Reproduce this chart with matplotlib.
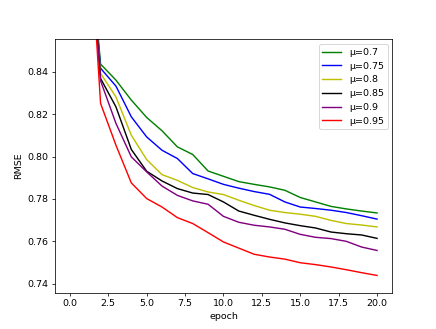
import numpy as np
import matplotlib
matplotlib.use("Agg")
import matplotlib.pyplot as plt

epochs = list(range(0, 21))

# RMSE per epoch, one list per momentum value (epochs 0 and 1 sit above the view)
rmse_07 = [1.02, 0.925, 0.8437, 0.8361, 0.8267, 0.8185, 0.8122, 0.8046, 0.8010, 0.7932, 0.7907,
           0.7882, 0.7869, 0.7857, 0.7841, 0.7807, 0.7786, 0.7765, 0.7753, 0.7743, 0.7734]
rmse_075 = [1.02, 0.925, 0.8417, 0.8333, 0.8188, 0.8093, 0.8030, 0.7991, 0.7920, 0.7895, 0.7869,
            0.7851, 0.7835, 0.7822, 0.7786, 0.7762, 0.7755, 0.7747, 0.7736, 0.7721, 0.7705]
rmse_08 = [1.02, 0.925, 0.8393, 0.8282, 0.8101, 0.7986, 0.7915, 0.7888, 0.7854, 0.7833, 0.7821,
           0.7794, 0.7769, 0.7747, 0.7736, 0.7728, 0.7718, 0.7699, 0.7684, 0.7677, 0.7668]
rmse_085 = [1.02, 0.93, 0.8369, 0.8235, 0.8034, 0.7931, 0.7885, 0.7849, 0.7828, 0.7821, 0.7786,
            0.7743, 0.7723, 0.7704, 0.7687, 0.7674, 0.7663, 0.7644, 0.7636, 0.7630, 0.7614]
rmse_09 = [1.02, 0.93, 0.8358, 0.8157, 0.7999, 0.7928, 0.7861, 0.7817, 0.7791, 0.7775, 0.7718,
           0.7690, 0.7676, 0.7668, 0.7657, 0.7633, 0.7619, 0.7613, 0.7600, 0.7573, 0.7557]
rmse_095 = [1.02, 0.94, 0.8251, 0.8054, 0.7876, 0.7802, 0.7762, 0.7712, 0.7684, 0.7641, 0.7597,
            0.7568, 0.7539, 0.7526, 0.7516, 0.7499, 0.7490, 0.7479, 0.7466, 0.7452, 0.7439]

series = [("μ=0.7", rmse_07, "green"),
          ("μ=0.75", rmse_075, "blue"),
          ("μ=0.8", rmse_08, "y"),
          ("μ=0.85", rmse_085, "black"),
          ("μ=0.9", rmse_09, "purple"),
          ("μ=0.95", rmse_095, "red")]

fig, ax = plt.subplots(figsize=(436 / 68, 329 / 68), dpi=68)
for label, vals, col in series:
    ax.plot(epochs, vals, color=col, label=label)

ax.set_ylim(0.7357, 0.8553)
ax.set_xlabel("epoch")
ax.set_ylabel("RMSE")
ax.legend(loc="upper right")

fig.savefig("out.png", dpi=68)
